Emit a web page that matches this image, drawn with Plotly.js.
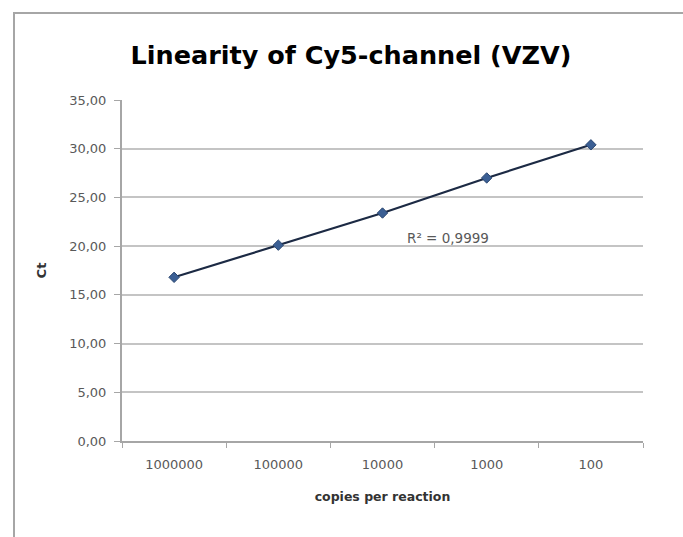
<!DOCTYPE html>
<html>
<head>
<meta charset="utf-8">
<script src="https://cdn.plot.ly/plotly-3.0.1.min.js"></script>
<style>
  html, body { margin: 0; padding: 0; background: #ffffff; }
  #wrap { position: relative; width: 683px; height: 537px; overflow: hidden; }
  #chart { position: absolute; left: 0; top: 0; width: 683px; height: 537px; }
  #frame { position: absolute; left: 13px; top: 12px; width: 700px; height: 560px;
           border-left: 2px solid #a6a6a6; border-top: 2px solid #a6a6a6; pointer-events: none; }
</style>
</head>
<body>
<div id="wrap">
  <div id="chart"></div>
  <div id="frame"></div>
</div>
<script>
// ---- data ----
const categories = ["1000000", "100000", "10000", "1000", "100"];
const ctValues = [16.8, 20.1, 23.4, 27.0, 30.4];
const yTickValues = [0, 5, 10, 15, 20, 25, 30, 35];
const yTickLabels = ["0,00", "5,00", "10,00", "15,00", "20,00", "25,00", "30,00", "35,00"];
const chartTitle = "Linearity of Cy5-channel (VZV)";
const xTitle = "copies per reaction";
const yTitle = "Ct";
const r2Label = "R² = 0,9999";

const FONT = "DejaVu Sans, Liberation Sans, Arial, sans-serif";

const trace = {
  x: categories,
  y: ctValues,
  type: "scatter",
  mode: "lines+markers",
  line: { color: "#1c2a44", width: 2.2 },
  marker: { symbol: "diamond", size: 8, color: "#3b5f94", line: { color: "#2a4670", width: 1 } },
  hoverinfo: "x+y",
  showlegend: false
};

const layout = {
  width: 683,
  height: 537,
  margin: { l: 122, r: 40, t: 100, b: 96 },
  paper_bgcolor: "#ffffff",
  plot_bgcolor: "#ffffff",
  font: { family: FONT, color: "#595959", size: 13 },
  title: {
    text: "<b>" + chartTitle + "</b>",
    font: { family: FONT, size: 25.5, color: "#000000" },
    x: 351 / 683, xanchor: "center", xref: "container",
    y: 1 - 55 / 537, yanchor: "middle", yref: "container"
  },
  xaxis: {
    type: "category",
    range: [-0.5, 4.5],
    showgrid: false,
    showline: true,
    linecolor: "#a6a6a6",
    linewidth: 2,
    ticks: "outside",
    tickson: "boundaries",
    ticklen: 5,
    tickcolor: "#a6a6a6",
    ticklabelstandoff: 10,
    tickfont: { family: FONT, size: 13, color: "#595959" },
    title: { text: "<b>" + xTitle + "</b>", font: { family: FONT, size: 12.5, color: "#333333" }, standoff: 22 },
    zeroline: false,
    fixedrange: true
  },
  yaxis: {
    range: [0, 35],
    tickmode: "array",
    tickvals: yTickValues,
    ticktext: yTickLabels,
    showgrid: true,
    gridcolor: "#c4c4c4",
    gridwidth: 2,
    showline: true,
    linecolor: "#a6a6a6",
    linewidth: 2,
    ticks: "outside",
    ticklen: 6,
    tickcolor: "#a6a6a6",
    ticklabelstandoff: 5,
    tickfont: { family: FONT, size: 13, color: "#595959" },
    title: { text: "<b>" + yTitle + "</b>", font: { family: FONT, size: 13, color: "#333333" }, standoff: 20 },
    zeroline: false,
    fixedrange: true
  },
  annotations: [{
    text: r2Label,
    x: 2.63, y: 20.8, xref: "x", yref: "y",
    showarrow: false,
    font: { family: FONT, size: 13.5, color: "#595959" }
  }]
};

Plotly.newPlot("chart", [trace], layout, { displayModeBar: false, staticPlot: true });
</script>
</body>
</html>
